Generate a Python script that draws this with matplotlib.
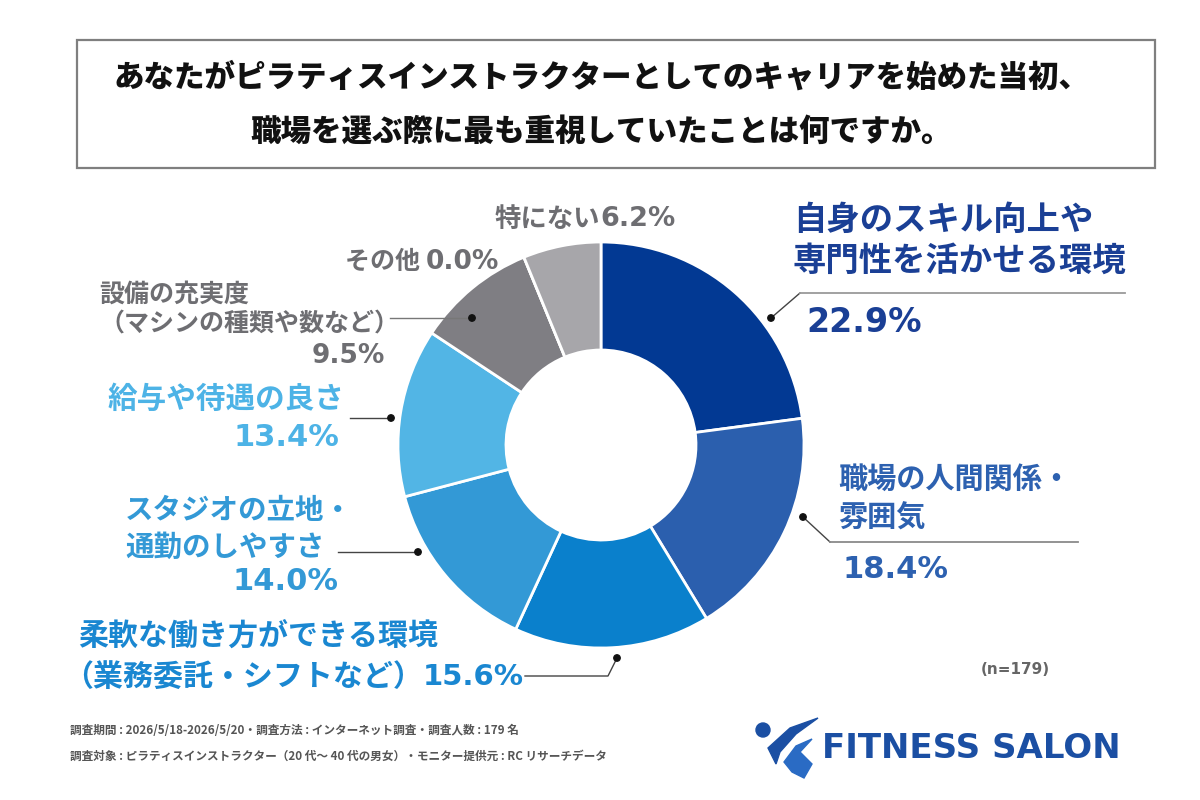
import matplotlib
matplotlib.use("Agg")
import matplotlib.pyplot as plt
from matplotlib.patches import Rectangle, Circle, Polygon

plt.rcParams['font.family'] = ['Noto Sans CJK JP', 'DejaVu Sans']

# ---- data ----
categories = ["自身のスキル向上や\n専門性を活かせる環境", "職場の人間関係・\n雰囲気",
              "柔軟な働き方ができる環境\n（業務委託・シフトなど）", "スタジオの立地・\n通勤のしやすさ",
              "給与や待遇の良さ", "設備の充実度\n（マシンの種類や数など）", "その他", "特にない"]
values = [22.9, 18.4, 15.6, 14.0, 13.4, 9.5, 0.0, 6.2]
colors = ["#023993", "#2B5FAE", "#0A80CC", "#3399D6", "#52B5E5", "#7F7E83", "#9A999D", "#A7A6AA"]
text_colors = ["#1A3F95", "#2D61B0", "#1A87D1", "#3399D6", "#4DB3E6", "#6E6E72", "#6E6E72", "#6E6E72"]
title = "あなたがピラティスインストラクターとしてのキャリアを始めた当初、\n職場を選ぶ際に最も重視していたことは何ですか。"
footer1 = "調査期間 : 2026/5/18-2026/5/20・調査方法 : インターネット調査・調査人数 : 179 名"
footer2 = "調査対象 : ピラティスインストラクター（20 代～ 40 代の男女）・モニター提供元 : RC リサーチデータ"
n_label = "(n=179)"
brand = "FITNESS SALON"

W, H = 1200, 800
def Y(y):
    return H - y

fig = plt.figure(figsize=(12, 8), dpi=100)
ax = fig.add_axes([0, 0, 1, 1])

cx, cy, R, inner = 601, 445, 203, 95
ax.pie(values, colors=colors, startangle=90, counterclock=False, radius=R,
       center=(cx, Y(cy)), wedgeprops=dict(width=R - inner, edgecolor="white", linewidth=2))
ax.set_xlim(0, W)
ax.set_ylim(0, H)
ax.set_aspect('equal')
ax.axis('off')

renderer = fig.canvas.get_renderer()
NUM = ['DejaVu Sans']

def pct(v):
    return f"{v:.1f}%"

def chain(x, y, parts, color):
    """parts: list of (string, family, size); drawn left to right."""
    for s, fam, size in parts:
        t = ax.text(x, Y(y), s, ha='left', va='center', fontsize=size, fontweight='bold',
                    color=color, family=fam)
        bb = t.get_window_extent(renderer=renderer)
        x += bb.width

# title box
ax.add_patch(Rectangle((77, Y(168)), 1078, 128, fill=False, edgecolor="#7F7F7F", linewidth=1.6))
ax.text(601, Y(104), title, ha='center', va='center', fontsize=22, fontweight='heavy',
        color="#111111", linespacing=1.95)

# label 0 (right top)
ax.text(793, Y(241), categories[0], ha='left', va='center', fontsize=24, fontweight='bold',
        color=text_colors[0], linespacing=1.28)
ax.text(806, Y(323), pct(values[0]), ha='left', va='center', fontsize=24, fontweight='bold',
        color=text_colors[0], family=NUM)
# label 1
ax.text(838, Y(498), categories[1], ha='left', va='center', fontsize=21, fontweight='bold',
        color=text_colors[1], linespacing=1.35)
ax.text(843, Y(570), pct(values[1]), ha='left', va='center', fontsize=22, fontweight='bold',
        color=text_colors[1], family=NUM)
# label 2
lines2 = categories[2].split("\n")
ax.text(78, Y(636), lines2[0], ha='left', va='center', fontsize=21.6, fontweight='bold', color=text_colors[2])
chain(63, 677, [(lines2[1], None, 21.6), (pct(values[2]), NUM, 21)], text_colors[2])
# label 3
ax.text(125, Y(529), categories[3], ha='left', va='center', fontsize=20.5, fontweight='bold',
        color=text_colors[3], linespacing=1.4)
ax.text(338, Y(581), pct(values[3]), ha='right', va='center', fontsize=22, fontweight='bold',
        color=text_colors[3], family=NUM)
# label 4
ax.text(108, Y(399), categories[4], ha='left', va='center', fontsize=21.3, fontweight='bold', color=text_colors[4])
ax.text(339, Y(438), pct(values[4]), ha='right', va='center', fontsize=22, fontweight='bold',
        color=text_colors[4], family=NUM)
# label 5
ax.text(99, Y(310), categories[5], ha='left', va='center', fontsize=18, fontweight='bold',
        color=text_colors[5], linespacing=1.3)
ax.text(385, Y(356), pct(values[5]), ha='right', va='center', fontsize=19, fontweight='bold',
        color=text_colors[5], family=NUM)
# label 6, 7
chain(345, 262, [(categories[6] + " ", None, 18), (pct(values[6]), NUM, 19)], text_colors[6])
chain(495, 219, [(categories[7], None, 19), (pct(values[7]), NUM, 19.5)], text_colors[7])

# leader lines
lc = "#444444"
def leader(pts, color=lc):
    xs = [p[0] for p in pts]
    ys = [Y(p[1]) for p in pts]
    ax.plot(xs, ys, color=color, linewidth=1.0)
    ax.add_patch(Circle((pts[0][0], Y(pts[0][1])), 3.2, color="#111111", zorder=5))

leader([(771, 318), (800, 293)])
ax.plot([800, 1125], [Y(293), Y(293)], color="#9A9A9A", linewidth=1.3)
leader([(803, 517), (830, 542)])
ax.plot([830, 1078], [Y(542), Y(542)], color="#8A8A8A", linewidth=1.3)
leader([(617, 658), (608, 676), (525, 676)])
leader([(418, 552), (338, 552)])
leader([(391, 418), (350, 418)])
leader([(472, 318), (390, 318)], color="#777777")

# n label
ax.text(1050, Y(670), n_label, ha='right', va='center', fontsize=11, fontweight='bold',
        color="#666666", family=NUM)

# footer
ax.text(70, Y(731), footer1, ha='left', va='center', fontsize=8.4, fontweight='bold', color="#555555")
ax.text(70, Y(756), footer2, ha='left', va='center', fontsize=8.4, fontweight='bold', color="#555555")

# logo
logo_c = "#1B4FA3"
ax.add_patch(Circle((763, Y(730)), 7, color=logo_c))
ax.add_patch(Polygon([(768, Y(748)), (790, Y(728)), (818, Y(718)), (796, Y(734)), (780, Y(752)),
                      (776, Y(764))], closed=True, color=logo_c))
ax.add_patch(Polygon([(784, Y(762)), (796, Y(746)), (812, Y(739)), (800, Y(752)), (812, Y(764)),
                      (804, Y(778)), (792, Y(772))], closed=True, color="#2A6BC4"))
ax.text(822, Y(749), brand, ha='left', va='center', fontsize=24.5, fontweight='bold',
        color=logo_c, family=NUM)

fig.savefig("out.png", dpi=100)
